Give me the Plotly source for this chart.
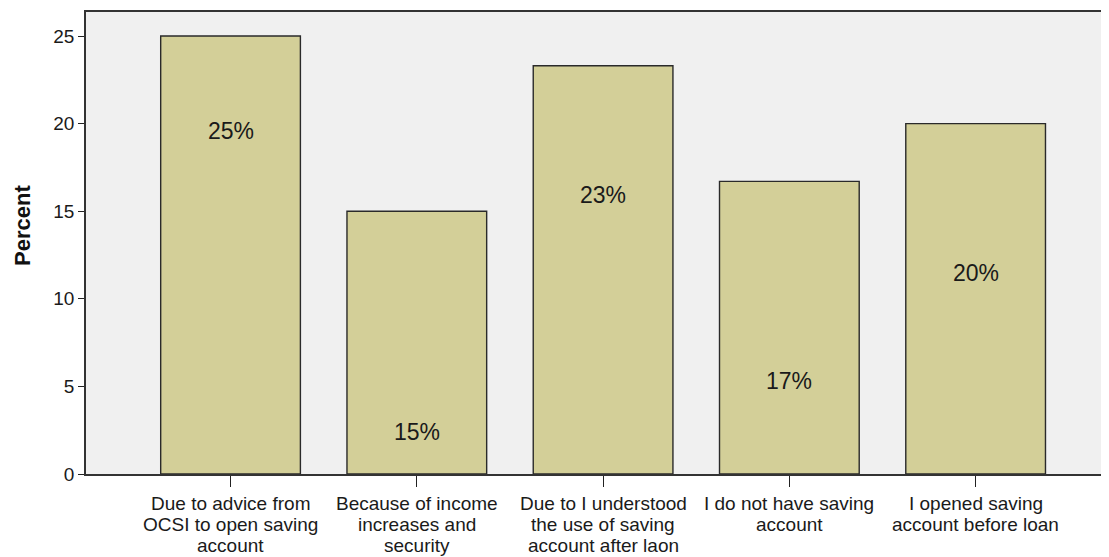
import plotly.graph_objects as go

categories = [
    "Due to advice from<br>OCSI to open saving<br>account",
    "Because of income<br>increases and<br>security",
    "Due to I understood<br>the use of saving<br>account after laon",
    "I do not have saving<br>account",
    "I opened saving<br>account before loan",
]
percent = [25.0, 15.0, 23.3, 16.7, 20.0]
labels = ["25%", "15%", "23%", "17%", "20%"]
# vertical placement of the in-bar labels (axis units)
label_y = [19.6, 2.4, 15.9, 5.3, 11.5]

xpos = list(range(len(categories)))
FONT = "Liberation Sans, Arial"

fig = go.Figure()
fig.add_trace(go.Bar(
    x=xpos, y=percent, width=0.75,
    marker=dict(color="#D3CF98", line=dict(color="#2a2a2a", width=1.4)),
    hoverinfo="skip",
))

for xi, yi, t in zip(xpos, label_y, labels):
    fig.add_annotation(x=xi, y=yi, text=t, showarrow=False,
                       font=dict(family=FONT, size=23, color="#1a1a1a"),
                       xanchor="center", yanchor="middle")

# category labels drawn line by line under the ticks (tight line spacing)
for xi, cat in zip(xpos, categories):
    for li, line in enumerate(cat.split("<br>")):
        fig.add_annotation(x=xi, xref="x", y=0, yref="paper", text=line,
                           showarrow=False, xanchor="center", yanchor="middle",
                           yshift=-(29 + 21 * li),
                           font=dict(family=FONT, size=19, color="#1a1a1a"))

# page has an 8px body margin; compensate so the chart lands where the reference is
OFF = 8
W, H = 1109 - OFF, 557 - OFF
ml, mt, mr = 86 - OFF, 12 - OFF, 0
plot_h = 474 - 12
mb = H - mt - plot_h

fig.add_annotation(xref="paper", yref="paper",
                   x=(22 - 86) / (W - ml - mr), y=(474 - 226) / plot_h,
                   text="<b>Percent</b>", textangle=-90, showarrow=False,
                   font=dict(family=FONT, size=22, color="#111"),
                   xanchor="center", yanchor="middle")

fig.update_layout(
    width=W, height=H,
    margin=dict(l=ml, r=mr, t=mt, b=mb, pad=0),
    paper_bgcolor="white", plot_bgcolor="#F0F0F0",
    showlegend=False,
    font=dict(family=FONT, color="#1a1a1a"),
)
fig.update_xaxes(
    range=[-0.776, 4.716], tickmode="array", tickvals=xpos,
    showticklabels=False,
    ticks="outside", ticklen=11, tickcolor="#222", tickwidth=1.3,
    showline=True, linecolor="#333", linewidth=1.6, mirror=True,
    showgrid=False, zeroline=False,
)
fig.update_yaxes(
    range=[0, 26.37], tickvals=[0, 5, 10, 15, 20, 25],
    ticks="outside", ticklen=6, tickcolor="#222", tickwidth=1.3,
    showline=True, linecolor="#333", linewidth=1.6,
    showgrid=False, zeroline=False,
    tickfont=dict(size=19, family=FONT, color="#1a1a1a"),
)

fig.write_html("out.html")
